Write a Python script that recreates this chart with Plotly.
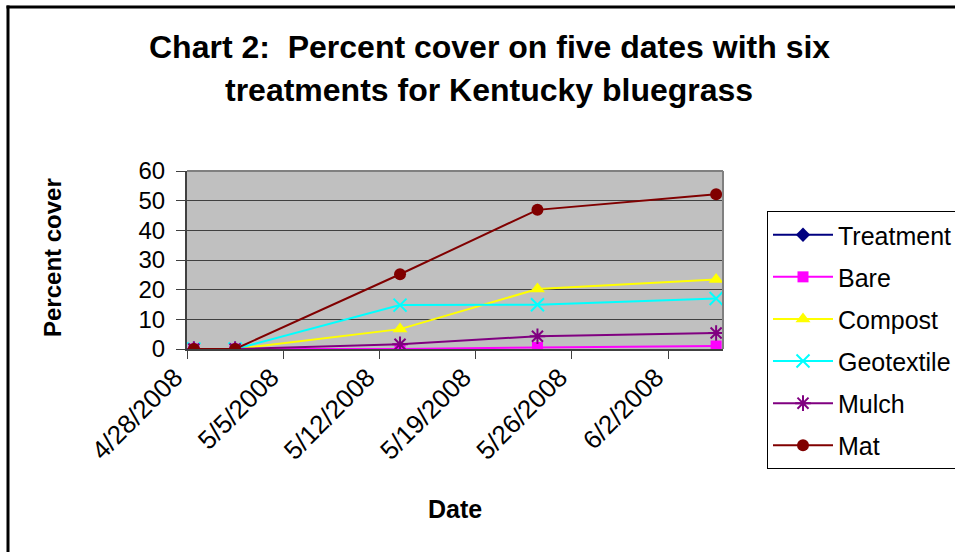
import pandas as pd
import plotly.graph_objects as go

# Sampling dates and percent cover for each treatment
dates = ["2008-04-28", "2008-05-01", "2008-05-13", "2008-05-23", "2008-06-05"]
treatment = [0, 0, None, None, None]
bare = [0, 0, 0, 0.5, 1.0]
compost = [0, 0, 6.7, 20.2, 23.4]
geotextile = [0, 0, 14.8, 14.9, 17.0]
mulch = [0, 0, 1.6, 4.3, 5.4]
mat = [0, 0, 25.2, 46.9, 52.2]

tick_dates = ["2008-04-28", "2008-05-05", "2008-05-12", "2008-05-19", "2008-05-26", "2008-06-02"]
tick_labels = ["4/28/2008", "5/5/2008", "5/12/2008", "5/19/2008", "5/26/2008", "6/2/2008"]
y_ticks = [0, 10, 20, 30, 40, 50, 60]

# each day occupies a slot from midnight to midnight; points sit mid-day
x_pts = pd.to_datetime(dates) + pd.Timedelta(hours=12)
x_ticks = pd.to_datetime(tick_dates)

series = [
    ("Treatment", treatment, "#000080", "diamond", 11, 0),
    ("Bare", bare, "#FF00FF", "square", 11, 0),
    ("Compost", compost, "#FFFF00", "triangle-up", 13, 0),
    ("Geotextile", geotextile, "#00FFFF", "x-thin-open", 13, 2),
    ("Mulch", mulch, "#800080", "asterisk-open", 13, 2),
    ("Mat", mat, "#800000", "circle", 12, 0),
]

FONT = "Liberation Sans, Arial, sans-serif"

fig = go.Figure()
for name, vals, color, symbol, size, mlw in series:
    fig.add_trace(go.Scatter(
        x=x_pts, y=vals, name=name, mode="lines+markers",
        legendgroup=name,
        line=dict(color=color, width=2),
        marker=dict(symbol=symbol, size=size, color=color,
                    line=dict(color=color, width=mlw)),
        connectgaps=False,
    ))

W, H = 955, 552
L, R, T, B = 187, 232, 171, 203
pw, ph = W - L - R, H - T - B


def px(x):
    return (x - L) / pw


def py(y):
    return (H - B - y) / ph


def label(text, x, y, size, angle=0):
    return dict(text=text, textangle=angle, xref="paper", yref="paper",
                x=px(x), y=py(y), xanchor="center", yanchor="middle",
                showarrow=False, font=dict(family=FONT, size=size))


fig.update_layout(
    width=W, height=H,
    margin=dict(l=L, r=R, t=T, b=B, autoexpand=False),
    paper_bgcolor="white",
    plot_bgcolor="#C0C0C0",
    font=dict(family=FONT, size=22, color="black"),
    showlegend=True,
    legend=dict(
        x=px(767), y=py(211), xanchor="left", yanchor="top",
        bgcolor="white", bordercolor="black", borderwidth=1,
        font=dict(family=FONT, size=25, color="black"),
        traceorder="grouped", tracegroupgap=6.6,
        itemwidth=60, maxheight=400,
    ),
    xaxis=dict(
        type="date",
        range=[pd.Timestamp("2008-04-28"), pd.Timestamp("2008-06-06")],
        tickvals=x_ticks, ticktext=tick_labels,
        tickangle=-45,
        ticks="outside", ticklen=8, tickcolor="#404040",
        ticklabelshift=-12, ticklabelstandoff=-7,
        showgrid=False, zeroline=False,
        showline=True, linecolor="#404040", linewidth=2, mirror=False,
        tickfont=dict(family=FONT, size=26),
    ),
    yaxis=dict(
        range=[0, 60], tickvals=y_ticks,
        ticks="outside", ticklen=9, tickcolor="#404040",
        ticklabelstandoff=6,
        showgrid=True, gridcolor="#404040", gridwidth=1,
        zeroline=False,
        showline=True, linecolor="#404040", linewidth=2, mirror=False,
        tickfont=dict(family=FONT, size=24),
    ),
    shapes=[
        # plot area frame on top and right
        dict(type="line", xref="paper", yref="paper", x0=0, x1=1, y0=1, y1=1,
             line=dict(color="#808080", width=2)),
        dict(type="line", xref="paper", yref="paper", x0=1, x1=1, y0=0, y1=1,
             line=dict(color="#808080", width=2)),
        # chart border (top and left edges)
        dict(type="line", xref="paper", yref="paper",
             x0=px(6.5), x1=px(1000), y0=py(7), y1=py(7),
             line=dict(color="black", width=3)),
        dict(type="line", xref="paper", yref="paper",
             x0=px(8), x1=px(8), y0=py(5.5), y1=py(600),
             line=dict(color="black", width=3)),
    ],
    annotations=[
        label("<b>Chart 2:  Percent cover on five dates with six</b>", 489, 47, 32),
        label("<b>treatments for Kentucky bluegrass</b>", 489, 90, 32),
        label("<b>Percent cover</b>", 52, 258, 24, angle=-90),
        label("<b>Date</b>", 455, 509, 25),
    ],
)

fig.write_html("out.html")
